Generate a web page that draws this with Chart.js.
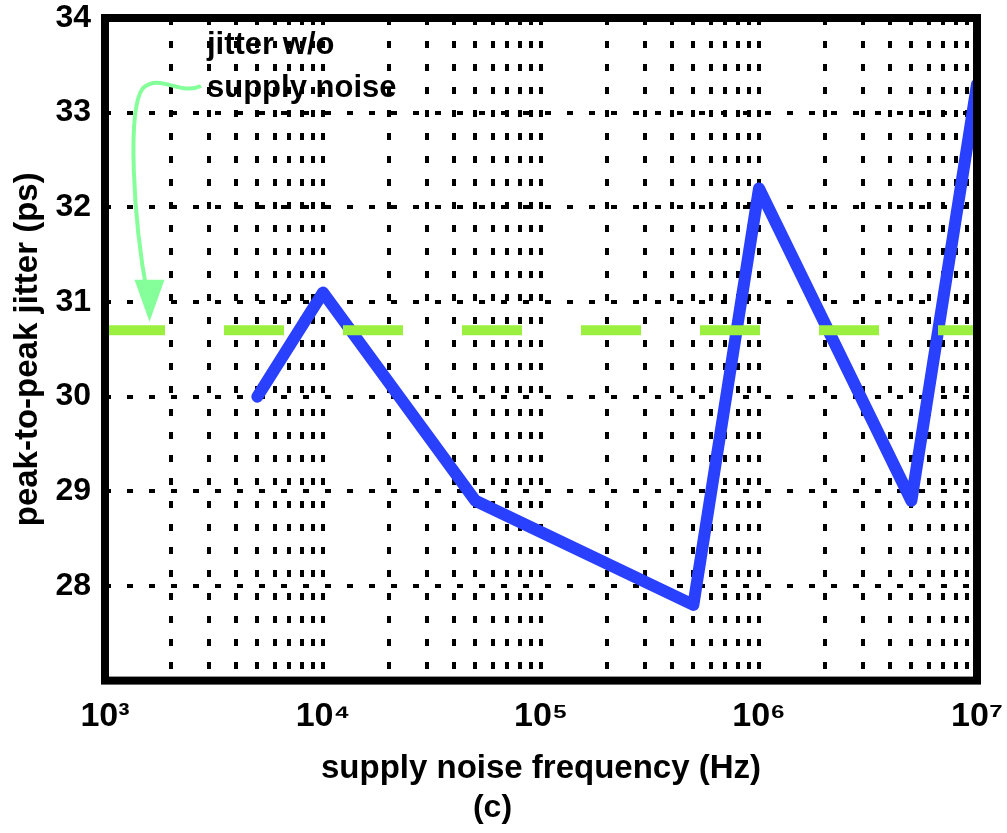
<!DOCTYPE html>
<html>
<head>
<meta charset="utf-8">
<script src="https://cdn.jsdelivr.net/npm/chart.js@4.4.1/dist/chart.umd.min.js"></script>
<style>
  html, body { margin: 0; padding: 0; background: #fff; }
  #wrap { width: 1007px; height: 833px; }
</style>
</head>
<body>
<div id="wrap"><canvas id="jitterChart" width="1007" height="833"></canvas></div>
<script>
// data
const freqHz = [5e3, 1e4, 5e4, 5e5, 1e6, 5e6, 1e7];
const jitterPs = [30.0, 31.1, 28.9, 27.8, 32.2, 28.9, 33.3];
const baselineHz = [1e3, 1e7];
const baselinePs = [30.7, 30.7];

const xDecades = [1e3, 1e4, 1e5, 1e6, 1e7];
const xTickLabels = ['10³', '10⁴', '10⁵', '10⁶', '10⁷'];
const yTickLabels = [28, 29, 30, 31, 32, 33, 34];

const FONT = "'Liberation Sans', Arial, sans-serif";

// thick frame round the plot + the "jitter w/o supply noise" note
const framePlugin = {
    id: 'frame',
    afterDraw(chart) {
        const { ctx, chartArea: a, scales } = chart;
        ctx.save();
        ctx.strokeStyle = '#000';
        ctx.lineWidth = 8;
        ctx.strokeRect(a.left, a.top, a.right - a.left, a.bottom - a.top);

        // annotation text
        ctx.fillStyle = '#000';
        ctx.font = 'bold 31px ' + FONT;
        ctx.textBaseline = 'middle';
        ctx.fillText('jitter w/o', a.left + 102, a.top + 27);
        ctx.fillText('supply noise', a.left + 102, a.top + 70);

        // curved arrow pointing at the baseline
        const tipX = scales.x.getPixelForValue(1.6e3);
        const tipY = scales.y.getPixelForValue(30.75);
        ctx.strokeStyle = '#85ff99';
        ctx.fillStyle = '#85ff99';
        ctx.lineWidth = 4;
        ctx.beginPath();
        ctx.moveTo(a.left + 96, a.top + 68);
        ctx.bezierCurveTo(a.left + 75, a.top + 78, a.left + 55, a.top + 55, a.left + 38, a.top + 70);
        ctx.bezierCurveTo(a.left + 22, a.top + 90, a.left + 28, a.top + 200, tipX - 2, tipY - 30);
        ctx.stroke();
        ctx.beginPath();
        ctx.moveTo(tipX - 15, tipY - 46);
        ctx.lineTo(tipX + 15, tipY - 46);
        ctx.lineTo(tipX, tipY - 4);
        ctx.closePath();
        ctx.fill();
        ctx.restore();
    }
};

const ctx = document.getElementById('jitterChart').getContext('2d');
new Chart(ctx, {
    type: 'line',
    data: {
        datasets: [
            {
                label: 'jitter w/o supply noise',
                data: baselineHz.map((x, i) => ({ x: x, y: baselinePs[i] })),
                borderColor: '#9bef3f',
                borderWidth: 10,
                borderDash: [60, 59],
                pointRadius: 0
            },
            {
                label: 'peak-to-peak jitter',
                data: freqHz.map((x, i) => ({ x: x, y: jitterPs[i] })),
                borderColor: '#2a40ff',
                borderWidth: 12,
                borderJoinStyle: 'round',
                borderCapStyle: 'round',
                pointRadius: 0,
                tension: 0
            }
        ]
    },
    options: {
        responsive: false,
        animation: false,
        layout: { padding: { top: 18, right: 30, left: 8, bottom: 0 } },
        plugins: {
            legend: { display: false },
            tooltip: { enabled: false },
            title: {
                display: true,
                position: 'bottom',
                text: '(c)',
                color: '#000',
                font: { family: FONT, size: 32, weight: 'bold' },
                padding: { top: 0, bottom: 6 }
            }
        },
        scales: {
            x: {
                type: 'logarithmic',
                min: 1e3,
                max: 1e7,
                afterBuildTicks(scale) {
                    const ticks = [];
                    xDecades.forEach((d, i) => {
                        ticks.push({ value: d });
                        if (i < xDecades.length - 1) {
                            for (let m = 2; m <= 9; m++) ticks.push({ value: m * d });
                        }
                    });
                    scale.ticks = ticks;
                },
                afterFit(scale) {
                    scale.height = 108;
                    scale.paddingLeft = 0;
                    scale.paddingRight = 0;
                },
                border: { display: false, dash: [7, 16] },
                grid: {
                    color: '#000',
                    lineWidth: 4,
                    drawTicks: false
                },
                ticks: {
                    autoSkip: false,
                    maxRotation: 0,
                    padding: 16,
                    color: '#000',
                    font: { family: FONT, size: 34, weight: 'bold' },
                    callback(value) {
                        const i = xDecades.indexOf(value);
                        return i >= 0 ? xTickLabels[i] : '';
                    }
                },
                title: {
                    display: true,
                    text: 'supply noise frequency (Hz)',
                    color: '#000',
                    font: { family: FONT, size: 33, weight: 'bold' },
                    padding: { top: 2, bottom: 0 }
                }
            },
            y: {
                min: 27,
                max: 34,
                afterFit(scale) {
                    scale.width = 97;
                    scale.paddingTop = 0;
                    scale.paddingBottom = 0;
                },
                border: { display: false, dash: [6, 16] },
                grid: {
                    color: '#000',
                    lineWidth: 4,
                    drawTicks: false
                },
                ticks: {
                    stepSize: 1,
                    padding: 14,
                    color: '#000',
                    font: { family: FONT, size: 32, weight: 'bold' },
                    callback(value) {
                        return yTickLabels.includes(value) ? String(value) : '';
                    }
                },
                title: {
                    display: true,
                    text: 'peak-to-peak jitter (ps)',
                    color: '#000',
                    font: { family: FONT, size: 33, weight: 'bold' },
                    padding: { top: 0, bottom: 0 }
                }
            }
        }
    },
    plugins: [framePlugin]
});
</script>
</body>
</html>
